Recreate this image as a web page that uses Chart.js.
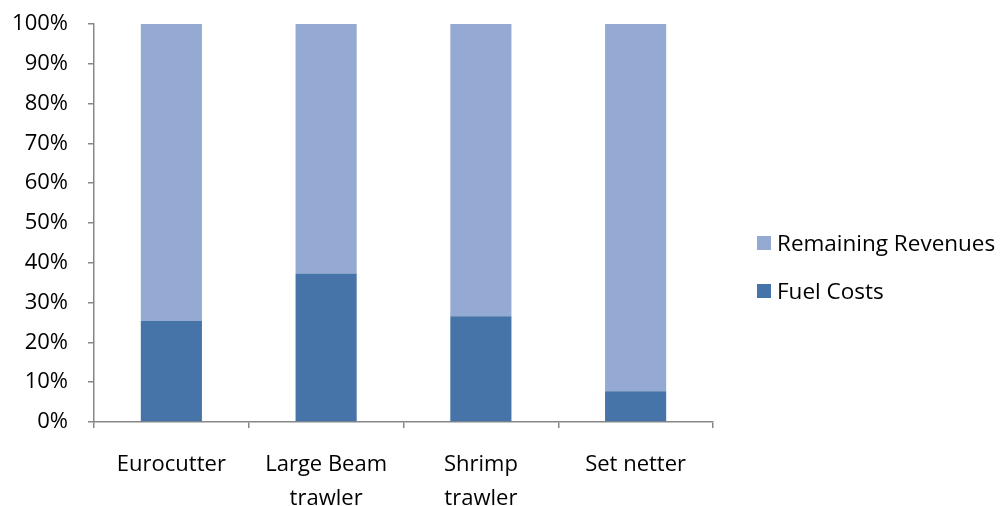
<!DOCTYPE html>
<html>
<head>
<meta charset="utf-8">
<script src="https://cdn.jsdelivr.net/npm/chart.js@4"></script>
<style>
  html, body { margin: 0; padding: 0; background: #fff; }
  #wrap { position: relative; width: 1004px; height: 506px; font-family: "Open Sans", sans-serif; }
  #legend { position: absolute; left: 757px; top: 235px; }
  .item { display: flex; align-items: center; height: 15px; margin-bottom: 33px; font-size: 22.5px; color: #000; white-space: nowrap; }
  .swatch { width: 14px; height: 14px; margin-right: 6px; flex: none; }
</style>
</head>
<body>
<div id="wrap">
  <canvas id="chart" width="1004" height="506"></canvas>
  <div id="legend"></div>
</div>
<script>
// -----------------------------
// Data
// -----------------------------
const categories = ['Eurocutter', ['Large Beam', 'trawler'], ['Shrimp', 'trawler'], 'Set netter'];
const fuelCosts = [25.4, 37.3, 26.6, 7.7];
const remainingRevenues = [74.6, 62.7, 73.4, 92.3];
const yTicks = [0, 10, 20, 30, 40, 50, 60, 70, 80, 90, 100];

const fuelColor = '#4673A8';
const remainingColor = '#95AAD2';
const axisColor = '#878787';

const datasets = [
  { label: 'Fuel Costs', data: fuelCosts, backgroundColor: fuelColor },
  { label: 'Remaining Revenues', data: remainingRevenues, backgroundColor: remainingColor }
];

// -----------------------------
// Chart
// -----------------------------
const ctx = document.getElementById('chart').getContext('2d');
new Chart(ctx, {
  type: 'bar',
  data: {
    labels: categories,
    datasets: datasets.map(d => ({ ...d, barPercentage: 0.395, categoryPercentage: 1, borderWidth: 0 }))
  },
  options: {
    responsive: false,
    animation: false,
    layout: { padding: { left: 0, right: 291, top: 0, bottom: 0 } },
    plugins: { legend: { display: false }, tooltip: { enabled: false } },
    scales: {
      x: {
        stacked: true,
        border: { display: true, color: axisColor, width: 1.5 },
        grid: { offset: true, drawOnChartArea: false, drawTicks: true, tickLength: 6, color: axisColor, lineWidth: 1.5 },
        ticks: { color: '#000', padding: 20, font: { family: 'Open Sans', size: 22, lineHeight: 1.55 }, maxRotation: 0 },
        afterFit: scale => { scale.height = 84; }
      },
      y: {
        stacked: true,
        min: 0,
        max: 100,
        afterBuildTicks: scale => { scale.ticks = yTicks.map(v => ({ value: v })); },
        border: { display: true, color: axisColor, width: 1.5 },
        grid: { drawOnChartArea: false, drawTicks: true, tickLength: 6, color: axisColor, lineWidth: 1.5 },
        ticks: { color: '#000', padding: 20, font: { family: 'Open Sans', size: 22, lineHeight: 1.0 }, callback: v => v + '%' },
        afterFit: scale => { scale.width = 94; scale.paddingTop = 24; }
      }
    }
  }
});

// -----------------------------
// Legend (top item is the top stack)
// -----------------------------
const legendEl = document.getElementById('legend');
datasets.slice().reverse().forEach(d => {
  const item = document.createElement('div');
  item.className = 'item';
  item.innerHTML = `<span class="swatch" style="background:${d.backgroundColor}"></span><span>${d.label}</span>`;
  legendEl.appendChild(item);
});
</script>
</body>
</html>
